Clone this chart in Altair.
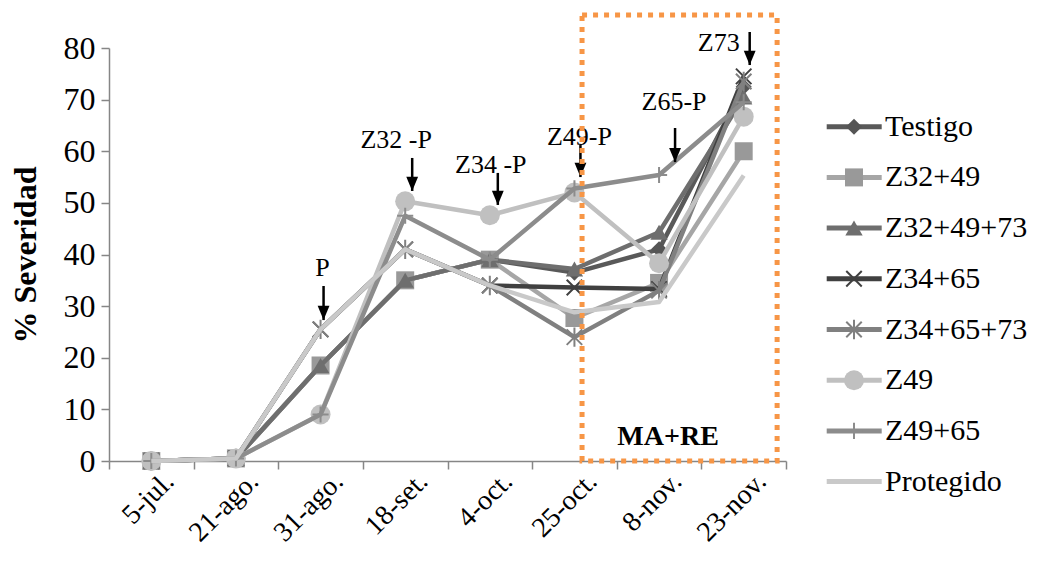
import altair as alt
import pandas as pd

# Fechas de evaluación
fechas = ["5-jul.", "21-ago.", "31-ago.", "18-set.", "4-oct.", "25-oct.", "8-nov.", "23-nov."]

# % de severidad por tratamiento
testigo   = [0, 0.5, 18.5, 35.0, 39.0, 36.5, 41.0, 72.5]
z32_49    = [0, 0.5, 18.5, 35.0, 39.0, 27.7, 34.5, 60.0]
z32_49_73 = [0, 0.5, 18.5, 35.0, 39.0, 37.2, 44.3, 70.5]
z34_65    = [0, 0.5, 25.5, 41.0, 34.0, 33.6, 33.3, 74.5]
z34_65_73 = [0, 0.5, 25.5, 41.0, 34.0, 24.0, 33.0, 73.5]
z49       = [0, 0.5, 9.0, 50.3, 47.6, 52.0, 38.3, 66.7]
z49_65    = [0, 0.5, 9.0, 47.5, 39.0, 52.8, 55.4, 69.5]
protegido = [0, 0.5, 25.5, 41.0, 34.0, 28.8, 30.8, 55.3]

nombres = ["Testigo", "Z32+49", "Z32+49+73", "Z34+65", "Z34+65+73", "Z49", "Z49+65", "Protegido"]
valores = [testigo, z32_49, z32_49_73, z34_65, z34_65_73, z49, z49_65, protegido]
lineas  = ["#595959", "#a6a6a6", "#6e6e6e", "#404040", "#808080", "#c0c0c0", "#8c8c8c", "#c9c9c9"]

# marcadores: (forma, relleno, tamaño)
X_PATH = "M-1,-1L1,1M-1,1L1,-1"
AST_PATH = "M-1,-1L1,1M-1,1L1,-1M0,-1.25L0,1.25"
PLUS_PATH = "M0,-1L0,1M-1,0L1,0"
marcadores = [
    ("diamond", True, 260),
    ("square", True, 324),
    ("triangle-up", True, 300),
    (X_PATH, False, 240),
    (AST_PATH, False, 240),
    ("circle", True, 400),
    (PLUS_PATH, False, 260),
    (None, None, None),
]
colores_marcador = ["#555555", "#999999", "#6e6e6e", "#404040", "#808080", "#c0c0c0", "#8c8c8c", None]

# Anotaciones: texto, fecha, desplazamiento x del texto, y del texto,
# desplazamiento x de la flecha, inicio y punta de la flecha
anot_texto = ["P", "Z32 -P", "Z34 -P", "Z49-P", "Z65-P", "Z73"]
anot_fecha = ["31-ago.", "18-set.", "4-oct.", "25-oct.", "8-nov.", "23-nov."]
anot_dx    = [2, -9, 1, 5, 15, -25]
anot_y     = [37.4, 62.2, 57.3, 62.8, 69.5, 81.0]
flecha_dx  = [3, 7, 8, 6, 16, 6]
flecha_y1  = [33.9, 58.7, 55.8, 61.2, 64.5, 83.1]
flecha_y2  = [27.3, 52.3, 49.6, 55.0, 57.9, 76.7]

W, H = 677, 413
step = W / len(fechas)
FONT = "Liberation Serif, Times New Roman, serif"

x_scale = alt.Scale(type="band", domain=fechas, paddingInner=0, paddingOuter=0)
x_axis = alt.Axis(
    title=None, tickBand="extent", labelAngle=-45, labelFont=FONT, labelFontSize=28,
    labelColor="black", domainColor="#868686", tickColor="#868686", tickSize=8,
    domainWidth=1.5, tickWidth=1.5, labelPadding=-2, labelOffset=8, grid=False,
)
y_scale = alt.Scale(domain=[0, 80], nice=False)
y_axis = alt.Axis(
    title="% Severidad", values=list(range(0, 81, 10)), labelFont=FONT, labelFontSize=32,
    labelColor="black", domainColor="#868686", tickColor="#868686", tickSize=8,
    domainWidth=1.5, tickWidth=1.5, labelPadding=6, grid=False,
    titleFont=FONT, titleFontSize=32, titleFontWeight="bold", titleColor="black",
    titlePadding=21,
)

X = alt.X("fecha:N", sort=fechas, scale=x_scale, axis=x_axis)
Y = alt.Y("valor:Q", scale=y_scale, axis=y_axis)

capas = []
for nombre, vals, col, (forma, relleno, tam), mcol in zip(nombres, valores, lineas, marcadores, colores_marcador):
    df = pd.DataFrame({"fecha": fechas, "valor": vals, "serie": nombre})
    capas.append(
        alt.Chart(df).mark_line(color=col, strokeWidth=4.5, strokeJoin="round").encode(x=X, y=Y)
    )
    if forma is not None:
        capas.append(
            alt.Chart(df).mark_point(
                shape=forma, filled=relleno, color=mcol, size=tam, opacity=1,
                strokeWidth=2 if not relleno else 0,
            ).encode(x=X, y=Y)
        )

# Flechas y textos de aplicación (xOffset se mide desde el inicio de la banda)
for txt, f, dx, ty, fdx, y1, y2 in zip(anot_texto, anot_fecha, anot_dx, anot_y, flecha_dx, flecha_y1, flecha_y2):
    d = pd.DataFrame({"fecha": [f], "valor": [ty], "y1": [y1], "y2": [y2], "t": [txt]})
    capas.append(
        alt.Chart(d).mark_text(font=FONT, fontSize=26, color="black", dx=dx, baseline="middle")
        .encode(x=X, y=Y, text="t:N")
    )
    capas.append(
        alt.Chart(d).mark_rule(color="black", strokeWidth=2.5)
        .encode(x=X, y=alt.Y("y1:Q", scale=y_scale, axis=y_axis), y2="y2:Q",
                xOffset=alt.value(step / 2 + fdx))
    )
    capas.append(
        alt.Chart(d).mark_point(shape="M-1,-2.4L1,-2.4L0,0Z", filled=True, color="black", size=140, opacity=1)
        .encode(x=X, y=alt.Y("y2:Q", scale=y_scale, axis=y_axis), xOffset=alt.value(step / 2 + fdx))
    )

# Recuadro de la etapa MA+RE
d_mare = pd.DataFrame({"fecha": ["8-nov."], "valor": [4.6], "t": ["MA+RE"]})
capas.append(
    alt.Chart(d_mare).mark_text(font=FONT, fontSize=28, fontWeight="bold", color="black", dx=9, baseline="middle")
    .encode(x=X, y=Y, text="t:N")
)
capas.append(
    alt.Chart(d_mare).mark_rect(fill=None, stroke="#f79646", strokeWidth=5, strokeDash=[5, 6])
    .encode(
        x=alt.value(step * 5.59), x2=alt.value(step * 7.895),
        y=alt.value(-33), y2=alt.value(H),
    )
)

principal = alt.layer(*capas)

# Leyenda
leg_scale = alt.Scale(domain=[0, 7], range=[78.7, 78.7 + 7 * 50.7])
leyenda = []
for i, (nombre, col, (forma, relleno, tam), mcol) in enumerate(zip(nombres, lineas, marcadores, colores_marcador)):
    d = pd.DataFrame({"fila": [i], "serie": [nombre]})
    LY = alt.Y("fila:Q", scale=leg_scale, axis=None)
    leyenda.append(
        alt.Chart(d).mark_rule(color=col, strokeWidth=5)
        .encode(x=alt.value(W + 40.7), x2=alt.value(W + 95.7), y=LY)
    )
    if forma is not None:
        leyenda.append(
            alt.Chart(d).mark_point(
                shape=forma, filled=relleno, color=mcol, size=tam, opacity=1,
                strokeWidth=2 if not relleno else 0,
            ).encode(x=alt.value(W + 68), y=LY)
        )
    leyenda.append(
        alt.Chart(d).mark_text(font=FONT, fontSize=30, color="black", align="left", baseline="middle")
        .encode(x=alt.value(W + 99), y=LY, text="serie:N")
    )

chart = (
    alt.layer(principal, alt.layer(*leyenda))
    .resolve_scale(y="independent")
    .properties(
        width=W, height=H,
        padding={"left": 109, "top": 48, "right": 1038 - 109 - W, "bottom": 569 - 48 - H},
        autosize=alt.AutoSizeParams(type="none"),
        background="white",
    )
    .configure_view(stroke=None)
)

chart.save("out.html", embed_options={"renderer": "svg", "actions": False})
